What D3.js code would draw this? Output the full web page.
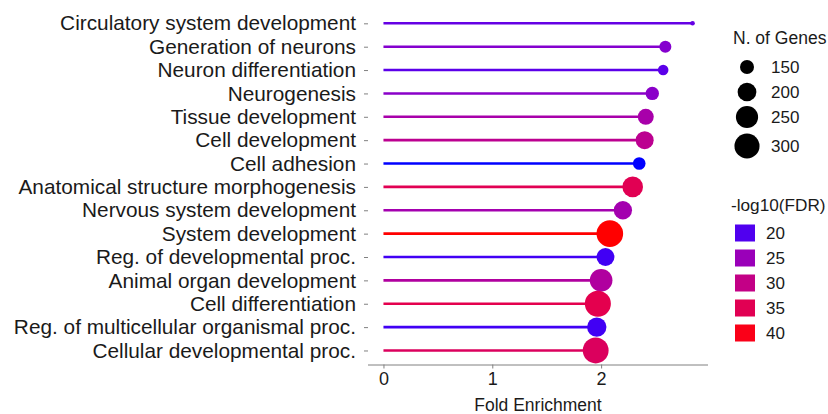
<!DOCTYPE html>
<html>
<head>
<meta charset="utf-8">
<script src="https://cdn.jsdelivr.net/npm/d3@7"></script>
<style>
  html, body { margin: 0; padding: 0; background: #fff; }
  svg { display: block; font-family: "Liberation Sans", Arial, sans-serif; }
</style>
</head>
<body>
<svg id="chart" width="828" height="414"></svg>
<script>
// GO terms, top to bottom
const categories = [
  "Circulatory system development",
  "Generation of neurons",
  "Neuron differentiation",
  "Neurogenesis",
  "Tissue development",
  "Cell development",
  "Cell adhesion",
  "Anatomical structure morphogenesis",
  "Nervous system development",
  "System development",
  "Reg. of developmental proc.",
  "Animal organ development",
  "Cell differentiation",
  "Reg. of multicellular organismal proc.",
  "Cellular developmental proc."
];
const foldEnrichment = [2.84, 2.59, 2.57, 2.47, 2.41, 2.40, 2.35, 2.29, 2.20, 2.08, 2.04, 2.00, 1.97, 1.96, 1.95];
const nGenes = [110, 135, 126, 145, 169, 191, 139, 226, 195, 329, 191, 257, 318, 209, 314];
const negLog10FDR = [21, 23, 20.5, 23.5, 26.5, 29, 18.5, 35, 26, 41, 19.5, 27.5, 35.5, 19.5, 34];

const xTicks = [0, 1, 2];
const sizeBreaks = [150, 200, 250, 300];
const colorBreaks = [20, 25, 30, 35, 40];

const rows = categories.map((name, i) => ({
  name, fe: foldEnrichment[i], n: nGenes[i], fdr: negLog10FDR[i]
}));

const svg = d3.select("#chart");

// panel
const panel = { left: 368, right: 708, top: 9.3, bottom: 364.5 };

const feMax = d3.max(foldEnrichment);
const x = d3.scaleLinear()
  .domain([-0.05 * feMax, feMax * 1.05])
  .range([panel.left, panel.right]);

const y = d3.scalePoint()
  .domain(categories)
  .range([panel.top, panel.bottom])
  .padding(0.6);

// point size: area-style mapping between min and max radius
const [nMin, nMax] = d3.extent(nGenes);
const rMin = 2.3, rMax = 13.3;
const sqrtScale = d3.scaleSqrt().domain([0, nMax - nMin]).range([0, rMax - rMin]);
const radius = n => rMin + sqrtScale(Math.max(0, n - nMin));

// colour: blue -> red in Lab
const color = d3.scaleLinear()
  .domain(d3.extent(negLog10FDR))
  .range(["blue", "red"])
  .interpolate(d3.interpolateLab);

// stems
svg.append("g").selectAll("line")
  .data(rows).join("line")
  .attr("x1", x(0))
  .attr("x2", d => x(d.fe))
  .attr("y1", d => y(d.name))
  .attr("y2", d => y(d.name))
  .attr("stroke", d => color(d.fdr))
  .attr("stroke-width", 2.6);

// heads
svg.append("g").selectAll("circle")
  .data(rows).join("circle")
  .attr("cx", d => x(d.fe))
  .attr("cy", d => y(d.name))
  .attr("r", d => radius(d.n))
  .attr("fill", d => color(d.fdr));

// x axis
const xAxis = svg.append("g")
  .attr("transform", `translate(0,${panel.bottom})`)
  .call(d3.axisBottom(x).tickValues(xTicks).tickFormat(d3.format("d")).tickSize(4).tickPadding(4).tickSizeOuter(0));
xAxis.select(".domain").attr("stroke", "#808080").attr("stroke-width", 1)
  .attr("d", `M${panel.left},0.5H${panel.right}`);
xAxis.selectAll(".tick line").attr("stroke", "#808080");
xAxis.selectAll(".tick text")
  .attr("font-size", 18)
  .attr("fill", "#1a1a1a")
  .attr("font-family", "Liberation Sans, Arial, sans-serif");

svg.append("text")
  .attr("x", (panel.left + panel.right) / 2)
  .attr("y", 411)
  .attr("text-anchor", "middle")
  .attr("font-size", 17.5)
  .attr("fill", "#1a1a1a")
  .text("Fold Enrichment");

// y axis (ticks + labels, no line)
const yAxis = svg.append("g")
  .attr("transform", `translate(${panel.left},0)`)
  .call(d3.axisLeft(y).tickSize(4).tickPadding(8));
yAxis.select(".domain").remove();
yAxis.selectAll(".tick line").attr("stroke", "#808080");
yAxis.selectAll(".tick text")
  .attr("font-size", 20.8)
  .attr("fill", "#1a1a1a")
  .attr("font-family", "Liberation Sans, Arial, sans-serif");

// size legend
const sizeLegend = svg.append("g");
sizeLegend.append("text")
  .attr("x", 733).attr("y", 44)
  .attr("font-size", 17.5).attr("fill", "#1a1a1a")
  .text("N. of Genes");
const sizeY = [67, 92, 117, 146];
sizeBreaks.forEach((b, i) => {
  sizeLegend.append("circle")
    .attr("cx", 747).attr("cy", sizeY[i])
    .attr("r", radius(b)).attr("fill", "#000");
  sizeLegend.append("text")
    .attr("x", 771).attr("y", sizeY[i] + 6)
    .attr("font-size", 17).attr("fill", "#1a1a1a")
    .text(b);
});

// colour legend
const colorLegend = svg.append("g");
colorLegend.append("text")
  .attr("x", 731).attr("y", 211)
  .attr("font-size", 17.2).attr("fill", "#1a1a1a")
  .text("-log10(FDR)");
colorBreaks.forEach((b, i) => {
  const cy = 233 + i * 25;
  colorLegend.append("rect")
    .attr("x", 735).attr("y", cy - 8.5)
    .attr("width", 20).attr("height", 17)
    .attr("fill", color(b));
  colorLegend.append("text")
    .attr("x", 766).attr("y", cy + 6)
    .attr("font-size", 17).attr("fill", "#1a1a1a")
    .text(b);
});
</script>
</body>
</html>
